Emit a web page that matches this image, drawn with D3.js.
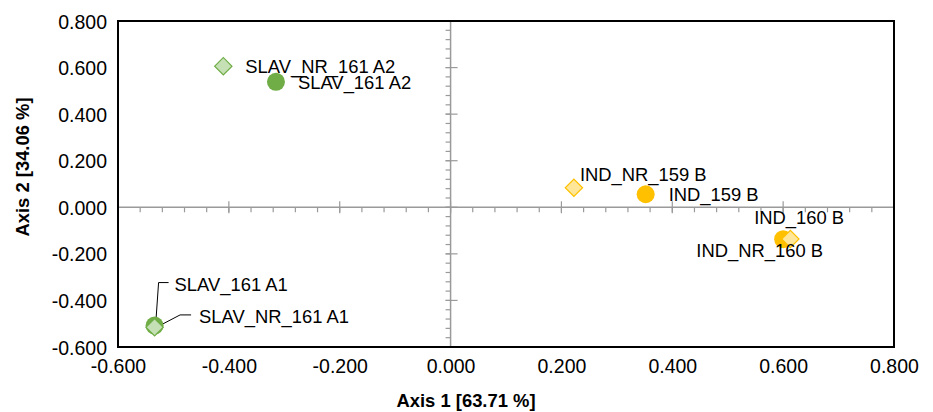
<!DOCTYPE html>
<html>
<head>
<meta charset="utf-8">
<script src="https://cdn.jsdelivr.net/npm/d3@7"></script>
<style>
  body { margin: 0; background: #fff; }
  text { font-family: "Liberation Sans", Arial, sans-serif; fill: #000; }
  .tick-label { font-size: 19.5px; }
  .pt-label { font-size: 18.4px; }
  .axis-title { font-size: 18.4px; font-weight: bold; }
</style>
</head>
<body>
<div id="vis"></div>
<script>
'use strict';

//data: axis 1 / axis 2 coordinates
var slavLabels = ['SLAV_161 A1', 'SLAV_161 A2'];
var slavX = [-0.534, -0.315];
var slavY = [-0.508, 0.539];

var slavNrLabels = ['SLAV_NR_161 A1', 'SLAV_NR_161 A2'];
var slavNrX = [-0.534, -0.410];
var slavNrY = [-0.515, 0.606];

var indLabels = ['IND_159 B', 'IND_160 B'];
var indX = [0.352, 0.600];
var indY = [0.056, -0.137];

var indNrLabels = ['IND_NR_159 B', 'IND_NR_160 B'];
var indNrX = [0.2225, 0.613];
var indNrY = [0.084, -0.136];

var tickValues = [-0.6, -0.4, -0.2, 0, 0.2, 0.4, 0.6, 0.8];
var xTitle = 'Axis 1 [63.71 %]';
var yTitle = 'Axis 2 [34.06 %]';

//layout
var W = 933, H = 412;
var margin = { top: 21, right: 39, bottom: 65, left: 118 };
var dim = { w: W - margin.left - margin.right, h: H - margin.top - margin.bottom };

//label placement (px offset from the point) and leader lines
var labelPos = {
    'SLAV_161 A1': { dx: 20, dy: -41, leader: [[14, -43], [4, -43], [1, 0]] },
    'SLAV_161 A2': { dx: 22, dy: 0.5, leader: [[31, -5], [16, -5]] },
    'SLAV_NR_161 A2': { dx: 22, dy: 0.5 },
    'SLAV_NR_161 A1': { dx: 44.5, dy: -10.6, leader: [[36.5, -12.3], [25.5, -12.3], [2, 0]] },
    'IND_159 B': { dx: 23, dy: 0.7 },
    'IND_160 B': { dx: -29, dy: -21.3 },
    'IND_NR_159 B': { dx: 6, dy: -13.7 },
    'IND_NR_160 B': { dx: -94, dy: 12 }
};

function zip(labels, xs, ys) {
    return labels.map(function (l, i) { return { label: l, x: xs[i], y: ys[i] }; });
}

var series = [
    { shape: 'circle', fill: '#70ad47', stroke: 'none', pts: zip(slavLabels, slavX, slavY) },
    { shape: 'circle', fill: '#ffc000', stroke: 'none', pts: zip(indLabels, indX, indY) },
    { shape: 'diamond', fill: '#c5e0b4', stroke: '#70ad47', pts: zip(slavNrLabels, slavNrX, slavNrY) },
    { shape: 'diamond', fill: '#ffe699', stroke: '#ffc000', pts: zip(indNrLabels, indNrX, indNrY) }
];

var x = d3.scaleLinear().domain([-0.6, 0.8]).range([0, dim.w]);
var y = d3.scaleLinear().domain([-0.6, 0.8]).range([dim.h, 0]);
var fmt = function (d) { return d.toFixed(3); };

var svg = d3.select('#vis')
    .append('svg')
    .attr('width', W)
    .attr('height', H);

var g = svg.append('g')
    .attr('transform', 'translate(' + margin.left + ', ' + margin.top + ')');

//minor ticks every 0.04
var minor = d3.range(-15, 21).map(function (i) { return +(i * 0.04).toFixed(2); });

//zero axes (gray, crossing the plot)
var axisColor = '#9a9a9a';
var zero = g.append('g').attr('class', 'zero-axes');
zero.append('line')
    .attr('x1', 0).attr('x2', dim.w)
    .attr('y1', y(0)).attr('y2', y(0))
    .style('stroke', axisColor).style('stroke-width', 1.5);
zero.append('line')
    .attr('x1', x(0)).attr('x2', x(0))
    .attr('y1', 0).attr('y2', dim.h)
    .style('stroke', axisColor).style('stroke-width', 1.5);
//minor: outside
zero.selectAll('.minor-x').data(minor).enter().append('line')
    .attr('x1', function (d) { return x(d); }).attr('x2', function (d) { return x(d); })
    .attr('y1', y(0)).attr('y2', y(0) + 5)
    .style('stroke', axisColor).style('stroke-width', 1.2);
zero.selectAll('.minor-y').data(minor).enter().append('line')
    .attr('y1', function (d) { return y(d); }).attr('y2', function (d) { return y(d); })
    .attr('x1', x(0) - 5).attr('x2', x(0))
    .style('stroke', axisColor).style('stroke-width', 1.2);
//major: cross
zero.selectAll('.major-x').data(tickValues).enter().append('line')
    .attr('x1', function (d) { return x(d); }).attr('x2', function (d) { return x(d); })
    .attr('y1', y(0) - 6).attr('y2', y(0) + 6)
    .style('stroke', axisColor).style('stroke-width', 1.2);
zero.selectAll('.major-y').data(tickValues).enter().append('line')
    .attr('y1', function (d) { return y(d); }).attr('y2', function (d) { return y(d); })
    .attr('x1', x(0) - 5).attr('x2', x(0) + 7)
    .style('stroke', axisColor).style('stroke-width', 1.2);

//frame
g.append('rect')
    .attr('width', dim.w).attr('height', dim.h)
    .style('fill', 'none').style('stroke', '#000').style('stroke-width', 2);

//tick labels on the frame
var xAxis = g.append('g')
    .attr('transform', 'translate(0, ' + dim.h + ')')
    .call(d3.axisBottom(x).tickValues(tickValues).tickFormat(fmt).tickSize(0).tickPadding(12));
var yAxis = g.append('g')
    .call(d3.axisLeft(y).tickValues(tickValues).tickFormat(fmt).tickSize(0).tickPadding(11));
[xAxis, yAxis].forEach(function (a) {
    a.select('.domain').remove();
    a.selectAll('text').attr('class', 'tick-label').style('fill', '#000');
    a.attr('font-family', null).attr('font-size', null);
});
yAxis.selectAll('text').attr('dy', '0.36em');
xAxis.selectAll('text').attr('dy', '0.71em');

//leader lines
var line = d3.line();
series.forEach(function (s) {
    s.pts.forEach(function (p) {
        var lp = labelPos[p.label];
        if (!lp.leader) return;
        g.append('path')
            .attr('d', line(lp.leader.map(function (o) { return [x(p.x) + o[0], y(p.y) + o[1]]; })))
            .style('fill', 'none').style('stroke', '#000').style('stroke-width', 1);
    });
});

//markers
var diamond = d3.symbol().type(d3.symbolSquare).size(150);
series.forEach(function (s) {
    var m = g.append('g');
    if (s.shape === 'circle') {
        m.selectAll('circle').data(s.pts).enter().append('circle')
            .attr('cx', function (d) { return x(d.x); })
            .attr('cy', function (d) { return y(d.y); })
            .attr('r', 9)
            .style('fill', s.fill);
    } else {
        m.selectAll('path').data(s.pts).enter().append('path')
            .attr('d', diamond)
            .attr('transform', function (d) {
                return 'translate(' + x(d.x) + ',' + y(d.y) + ') rotate(45)';
            })
            .style('fill', s.fill).style('stroke', s.stroke).style('stroke-width', 1.2);
    }
});

//point labels
series.forEach(function (s) {
    g.selectAll(null).data(s.pts).enter().append('text')
        .attr('class', 'pt-label')
        .attr('x', function (d) { return x(d.x) + labelPos[d.label].dx; })
        .attr('y', function (d) { return y(d.y) + labelPos[d.label].dy + 6.5; })
        .text(function (d) { return d.label; });
});

//axis titles
svg.append('text')
    .attr('class', 'axis-title')
    .attr('x', 466).attr('y', 406.5)
    .attr('text-anchor', 'middle')
    .text(xTitle);
svg.append('text')
    .attr('class', 'axis-title')
    .attr('transform', 'translate(29, 167) rotate(-90)')
    .attr('text-anchor', 'middle')
    .text(yTitle);
</script>
</body>
</html>
